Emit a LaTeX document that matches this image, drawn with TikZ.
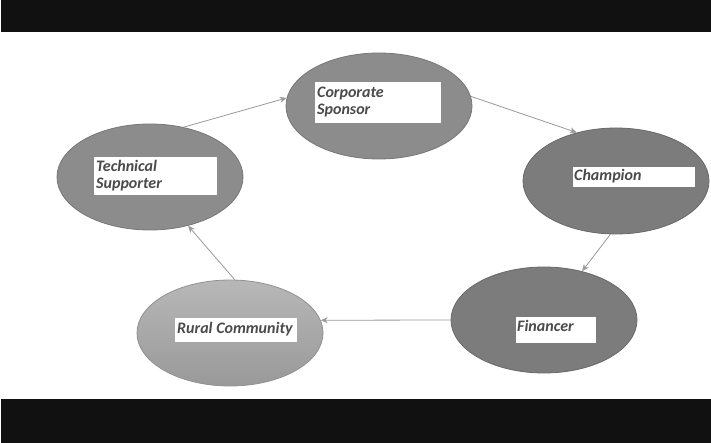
\documentclass[tikz,border=0pt]{standalone}
\usepackage{fontspec}
\setmainfont{Carlito}
\usetikzlibrary{shapes.geometric,arrows.meta}
\definecolor{band}{HTML}{111111}
\definecolor{arrowgray}{HTML}{9A9A9A}
\definecolor{txtgray}{HTML}{4A4A4A}
\tikzset{
  oval/.style={ellipse, draw=#1!85!black, fill=#1, line width=0.8pt, inner sep=0pt, minimum width=186pt, minimum height=106pt},
  label box/.style={fill=white, draw=none, inner sep=0pt, anchor=north west},
  lbl/.style={font=\bfseries\itshape\fontsize{16}{17}\selectfont, text=txtgray, anchor=north west, inner sep=0pt, align=left},
  conn/.style={draw=arrowgray, line width=0.8pt, -{Stealth[length=7pt,width=6pt]}}
}
\begin{document}
\begin{tikzpicture}[x=1pt,y=-1pt]
\useasboundingbox (0,0) rectangle (711,443);
\fill[white] (0,0) rectangle (711,443);
\fill[band] (1,0) rectangle (711,32);
\fill[band] (1,399) rectangle (711,443);
\definecolor{cA}{HTML}{8C8C8C}
\definecolor{cB}{HTML}{7C7C7C}
\definecolor{cC}{HTML}{ABABAB}
% ellipses
\node[oval=cA] (corp) at (379,106) {};
\node[oval=cA] (tech) at (150,177) {};
\node[oval=cB] (champ) at (616,181) {};
\node[oval=cB] (fin) at (544,320) {};
\node[ellipse, draw=cC!85!black, line width=0.8pt, inner sep=0pt, minimum width=186pt, minimum height=106pt,
  top color=black!28, bottom color=black!40] (rural) at (230,333) {};
% label boxes
\node[label box, minimum width=126pt, minimum height=41pt] (corpbox) at (315,82) {};
\node[lbl] (corptxt) at (317,87) {Corporate\\Sponsor};
\node[label box, minimum width=123pt, minimum height=38pt] (techbox) at (94,157) {};
\node[lbl] (techtxt) at (96,160) {Technical\\Supporter};
\node[label box, minimum width=122pt, minimum height=20pt] (champbox) at (573,167) {};
\node[lbl] (champtxt) at (574,169) {Champion};
\node[label box, minimum width=122pt, minimum height=24pt] (ruralbox) at (175,318) {};
\node[lbl] (ruraltxt) at (177,322) {Rural Community};
\node[label box, minimum width=80pt, minimum height=26pt] (finbox) at (516,317) {};
\node[lbl] (fintxt) at (517,320) {Financer};
% connectors
\draw[conn] (tech.56) -- (corp.175);
\draw[conn] (corp.6) -- (champ.129);
\draw[conn] (champ.264) -- (fin.52);
\draw[conn] (fin.180) -- (rural.8);
\draw[conn] (rural.85) -- (tech.308);
\end{tikzpicture}
\end{document}
